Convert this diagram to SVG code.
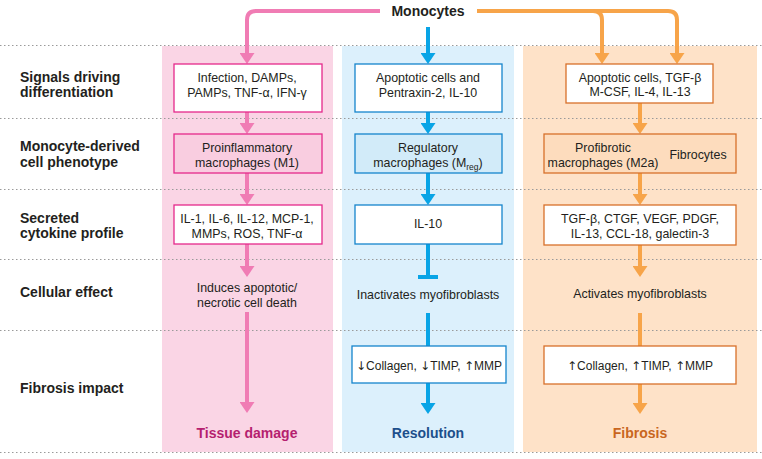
<svg xmlns="http://www.w3.org/2000/svg" width="762" height="459" viewBox="0 0 762 459">
<style>
text{font-family:"Liberation Sans","Noto Sans",Arial,sans-serif;fill:#231f20}
.t{font-size:12.4px;text-anchor:middle}
.sm{font-size:12px}
.ar{font-size:12px;font-family:"DejaVu Sans",sans-serif}
.lab{font-size:14px;font-weight:bold}
.dot{stroke:#9a9a9a;stroke-width:1;stroke-dasharray:1.5 2.5;fill:none}
.pk{stroke:#f07cb4;stroke-width:4;fill:none}
.bl{stroke:#08a4e6;stroke-width:4;fill:none}
.or{stroke:#f7a449;stroke-width:4;fill:none}
.bpk{fill:#fff;stroke:#e5288b;stroke-width:1.3}
.bbl{fill:#fff;stroke:#1584cc;stroke-width:1.3}
.bor{fill:#fff;stroke:#d8702a;stroke-width:1.3}
</style>
<defs>
<marker id="apk" markerUnits="userSpaceOnUse" markerWidth="11" markerHeight="15" refX="0" refY="7.5" orient="auto" viewBox="0 0 11 15"><path d="M0,0 L11,7.5 L0,15 z" fill="#f07cb4"/></marker>
<marker id="abl" markerUnits="userSpaceOnUse" markerWidth="11" markerHeight="15" refX="0" refY="7.5" orient="auto" viewBox="0 0 11 15"><path d="M0,0 L11,7.5 L0,15 z" fill="#08a4e6"/></marker>
<marker id="aor" markerUnits="userSpaceOnUse" markerWidth="11" markerHeight="15" refX="0" refY="7.5" orient="auto" viewBox="0 0 11 15"><path d="M0,0 L11,7.5 L0,15 z" fill="#f7a449"/></marker>
</defs>
<rect width="762" height="459" fill="#fff"/>
<!-- column backgrounds -->
<rect x="162" y="46" width="171" height="406" fill="#fad5e5"/>
<rect x="342" y="46" width="172" height="406" fill="#dcf0fc"/>
<rect x="523" y="46" width="234" height="406" fill="#fee2c8"/>
<!-- dotted row separators -->
<g id="rows">
<line class="dot" x1="0" y1="45.5" x2="762" y2="45.5"/>
<line class="dot" x1="0" y1="118.5" x2="762" y2="118.5"/>
<line class="dot" x1="0" y1="189.5" x2="762" y2="189.5"/>
<line class="dot" x1="0" y1="259.5" x2="762" y2="259.5"/>
<line class="dot" x1="0" y1="330.5" x2="762" y2="330.5"/>
<line class="dot" x1="0" y1="452.5" x2="762" y2="452.5"/>
</g>
<!-- row labels -->
<g id="labels">
<text class="lab" x="20" y="82">Signals driving</text>
<text class="lab" x="20" y="97">differentiation</text>
<text class="lab" x="20" y="151">Monocyte-derived</text>
<text class="lab" x="20" y="167">cell phenotype</text>
<text class="lab" x="20" y="223">Secreted</text>
<text class="lab" x="20" y="238">cytokine profile</text>
<text class="lab" x="20" y="297">Cellular effect</text>
<text class="lab" x="20" y="393">Fibrosis impact</text>
</g>
<g id="connectors">
<path class="pk" d="M380,11 H256 Q247,11 247,20 V53" marker-end="url(#apk)"/>
<path class="pk" d="M247,112 V123" marker-end="url(#apk)"/>
<path class="pk" d="M247,173 V194" marker-end="url(#apk)"/>
<path class="pk" d="M247,244 V266" marker-end="url(#apk)"/>
<path class="pk" d="M247,312 V402" marker-end="url(#apk)"/>
<path class="bl" d="M428,27 V53" marker-end="url(#abl)"/>
<path class="bl" d="M428,112 V123" marker-end="url(#abl)"/>
<path class="bl" d="M428,173 V194" marker-end="url(#abl)"/>
<path class="bl" d="M428,244 V277 M418,277 H438"/>
<path class="bl" d="M428,313 V346"/>
<path class="bl" d="M428,383 V403" marker-end="url(#abl)"/>
<path class="or" d="M477,11 H668 Q677,11 677,20 V53" marker-end="url(#aor)"/>
<path class="or" d="M593,11 Q602,11 602,20 V53" marker-end="url(#aor)"/>
<path class="or" d="M640,103 V123" marker-end="url(#aor)"/>
<path class="or" d="M640,173 V194" marker-end="url(#aor)"/>
<path class="or" d="M640,245 V266" marker-end="url(#aor)"/>
<path class="or" d="M640,313 V346"/>
<path class="or" d="M640,384 V403" marker-end="url(#aor)"/>
</g>
<g id="monocytes"><text x="428" y="16" style="font-size:14px;font-weight:bold;text-anchor:middle">Monocytes</text></g>
<!-- pink column -->
<g id="m1-signals"><rect class="bpk" x="174" y="64" width="148" height="48"/>
<text class="t" x="247" y="82">Infection, DAMPs,</text><text class="t" x="247" y="97">PAMPs, TNF-α, IFN-γ</text></g>
<g id="m1-phenotype"><rect class="bpk" x="174" y="134" width="148" height="39" style="fill:#f9cde0"/>
<text class="t" x="247" y="152">Proinflammatory</text><text class="t" x="247" y="167">macrophages (M1)</text></g>
<g id="m1-cytokines"><rect class="bpk" x="174" y="205" width="148" height="39"/>
<text class="t" x="247" y="223">IL-1, IL-6, IL-12, MCP-1,</text><text class="t" x="247" y="238">MMPs, ROS, TNF-α</text></g>
<g id="m1-effect"><text class="t" x="247" y="292">Induces apoptotic/</text><text class="t" x="247" y="307">necrotic cell death</text></g>
<g id="m1-impact"><text class="t" x="247" y="438" style="font-size:14px;font-weight:bold;fill:#b51f6f">Tissue damage</text></g>
<!-- blue column -->
<g id="mreg-signals"><rect class="bbl" x="355" y="64" width="147" height="48"/>
<text class="t" x="428" y="82">Apoptotic cells and</text><text class="t" x="428" y="97">Pentraxin-2, IL-10</text></g>
<g id="mreg-phenotype"><rect class="bbl" x="355" y="134" width="147" height="39" style="fill:#d2ebf9"/>
<text class="t" x="428" y="152">Regulatory</text><text class="t" x="428" y="167">macrophages (M<tspan style="font-size:8.5px" dy="3">reg</tspan><tspan dy="-3">)</tspan></text></g>
<g id="mreg-cytokines"><rect class="bbl" x="355" y="205" width="147" height="39"/>
<text class="t" x="428" y="228">IL-10</text></g>
<g id="mreg-effect"><text class="t" x="428" y="299">Inactivates myofibroblasts</text></g>
<g id="mreg-matrix"><rect class="bbl" x="352" y="346" width="154" height="37"/>
<text class="t sm" x="429" y="370"><tspan class="ar">↓</tspan>Collagen, <tspan class="ar">↓</tspan>TIMP, <tspan class="ar">↑</tspan>MMP</text></g>
<g id="mreg-impact"><text class="t" x="428" y="438" style="font-size:14px;font-weight:bold;fill:#1c4f8b">Resolution</text></g>
<!-- orange column -->
<g id="m2-signals"><rect class="bor" x="566" y="64" width="147" height="39"/>
<text class="t" x="640" y="82">Apoptotic cells, TGF-β</text><text class="t" x="640" y="96">M-CSF, IL-4, IL-13</text></g>
<g id="m2-phenotype"><rect class="bor" x="544" y="134" width="192" height="39" style="fill:#fddcbd"/>
<text class="t" x="603" y="152">Profibrotic</text><text class="t" x="603" y="167">macrophages (M2a)</text>
<text class="t" x="698" y="159">Fibrocytes</text></g>
<g id="m2-cytokines"><rect class="bor" x="544" y="205" width="192" height="40"/>
<text class="t" x="640" y="223">TGF-β, CTGF, VEGF, PDGF,</text><text class="t" x="640" y="238">IL-13, CCL-18, galectin-3</text></g>
<g id="m2-effect"><text class="t" x="640" y="298">Activates myofibroblasts</text></g>
<g id="m2-matrix"><rect class="bor" x="544" y="346" width="192" height="38"/>
<text class="t sm" x="640" y="370"><tspan class="ar">↑</tspan>Collagen, <tspan class="ar">↑</tspan>TIMP, <tspan class="ar">↑</tspan>MMP</text></g>
<g id="m2-impact"><text class="t" x="640" y="438" style="font-size:14px;font-weight:bold;fill:#c9661e">Fibrosis</text></g>
</svg>
